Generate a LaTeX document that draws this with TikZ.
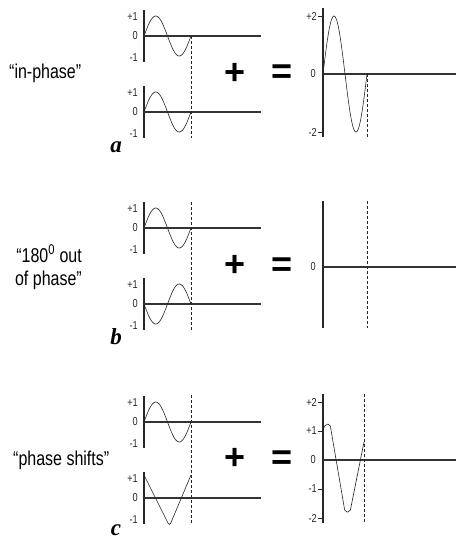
\documentclass[tikz,border=0pt]{standalone}
\usepackage{fontspec}
\setmainfont{Liberation Sans}
\newfontfamily\narrowfont[FakeStretch=0.8]{Liberation Sans}
\newfontfamily\letterfont{Liberation Serif}
\begin{document}
\begin{tikzpicture}[x=1pt,y=-1pt,
  axis/.style={line width=1.4pt,draw=black!85},
  zeroline/.style={line width=1.2pt,draw=black!80},
  wave/.style={line width=0.6pt,draw=black!85},
  marker/.style={line width=1pt,draw=black!85,dash pattern=on 3pt off 2pt},
  tick/.style={line width=1pt,draw=black!85},
  ticklabel/.style={inner sep=0pt,anchor=east,font=\narrowfont\fontsize{11.5}{11.5}\selectfont,text=black!85},
  caption/.style={inner sep=0pt,font=\narrowfont\fontsize{20}{23}\selectfont},
  opsym/.style={inner sep=0pt,font=\bfseries\fontsize{36}{36}\selectfont},
  letter/.style={inner sep=0pt,font=\letterfont\bfseries\itshape\fontsize{23}{23}\selectfont}]
\path[use as bounding box] (0,0) rectangle (457,541);

% ---------- panel a ----------
% top small graph
\draw[axis] (144,10) -- (144,62);
\draw[zeroline] (144,36) -- (261,36);
\draw[wave] plot[domain=0:360,samples=72] ({144+\x/360*47},{36-20*sin(\x)});
\node[ticklabel] (a1p) at (138,17) {+1};
\node[ticklabel] (a10) at (138,36) {0};
\node[ticklabel] (a1m) at (138,58) {-1};
% bottom small graph
\draw[axis] (144,86) -- (144,138);
\draw[zeroline] (144,112) -- (261,112);
\draw[wave] plot[domain=0:360,samples=72] ({144+\x/360*47},{112-20*sin(\x)});
\node[ticklabel] (a2p) at (138,93) {+1};
\node[ticklabel] (a20) at (138,112) {0};
\node[ticklabel] (a2m) at (138,134) {-1};
\draw[marker] (191,36) -- (191,138);
% result
\draw[axis] (323,8) -- (323,137);
\draw[zeroline] (323,74) -- (456,74);
\draw[tick] (318,16) -- (323,16);
\draw[tick] (318,132) -- (323,132);
\draw[wave] plot[domain=0:360,samples=72] ({323+\x/360*44},{74-58*sin(\x)});
\draw[marker] (367,74) -- (367,137);
\node[ticklabel] (ar2p) at (317,16) {+2};
\node[ticklabel] (ar0) at (316,74) {0};
\node[ticklabel] (ar2m) at (317,132) {-2};
\node[opsym] (aplus) at (235,74) {+};
\node[opsym] (aeq) at (282,74) {=};
\node[letter] (alet) at (116,147) {a};
\node[caption,anchor=west] (acap) at (9,73) {“in-phase”};

% ---------- panel b ----------
\draw[axis] (144,202) -- (144,254);
\draw[zeroline] (144,228) -- (261,228);
\draw[wave] plot[domain=0:360,samples=72] ({144+\x/360*47},{228-20*sin(\x)});
\node[ticklabel] (b1p) at (138,209) {+1};
\node[ticklabel] (b10) at (138,228) {0};
\node[ticklabel] (b1m) at (138,250) {-1};
\draw[axis] (144,278) -- (144,330);
\draw[zeroline] (144,304) -- (261,304);
\draw[wave] plot[domain=0:360,samples=72] ({144+\x/360*47},{304+20*sin(\x)});
\node[ticklabel] (b2p) at (138,285) {+1};
\node[ticklabel] (b20) at (138,304) {0};
\node[ticklabel] (b2m) at (138,326) {-1};
\draw[marker] (191,202) -- (191,330);
\draw[axis] (323,201) -- (323,328);
\draw[zeroline] (323,267) -- (456,267);
\draw[marker] (367,201) -- (367,328);
\node[ticklabel] (br0) at (316,267) {0};
\node[opsym] (bplus) at (235,266) {+};
\node[opsym] (beq) at (282,267) {=};
\node[letter] (blet) at (116,337) {b};
\node[caption,anchor=east,align=right] (bcap) at (82,267) {“180\textsuperscript{0} out\\of phase”};

% ---------- panel c ----------
\draw[axis] (144,396) -- (144,448);
\draw[zeroline] (144,422) -- (261,422);
\draw[wave] plot[domain=0:360,samples=72] ({144+\x/360*47},{422-20*sin(\x)});
\node[ticklabel] (c1p) at (138,403) {+1};
\node[ticklabel] (c10) at (138,422) {0};
\node[ticklabel] (c1m) at (138,444) {-1};
\draw[axis] (144,472) -- (144,524);
\draw[zeroline] (144,498) -- (261,498);
\draw[wave,rounded corners=3pt] (144,475) -- (169.5,526) -- (191,475);
\node[ticklabel] (c2p) at (138,479) {+1};
\node[ticklabel] (c20) at (138,498) {0};
\node[ticklabel] (c2m) at (138,520) {-1};
\draw[marker] (191,395) -- (191,524);
\draw[axis] (323,394) -- (323,523);
\draw[zeroline] (323,460) -- (456,460);
\foreach \yy in {402,431,489,518} \draw[tick] (318,\yy) -- (323,\yy);
\draw[wave,rounded corners=2pt] (323,429) -- (326,424) -- (330,424) -- (345,512) -- (350,512) -- (364,442);
\draw[marker] (364,394) -- (364,523);
\node[ticklabel] (cr2p) at (317,402) {+2};
\node[ticklabel] (cr1p) at (317,431) {+1};
\node[ticklabel] (cr0) at (316,460) {0};
\node[ticklabel] (cr1m) at (317,489) {-1};
\node[ticklabel] (cr2m) at (317,518) {-2};
\node[opsym] (cplus) at (235,459) {+};
\node[opsym] (ceq) at (282,460) {=};
\node[letter] (clet) at (116,530) {c};
\node[caption,anchor=west] (ccap) at (13,460) {“phase shifts”};
\end{tikzpicture}
\end{document}
